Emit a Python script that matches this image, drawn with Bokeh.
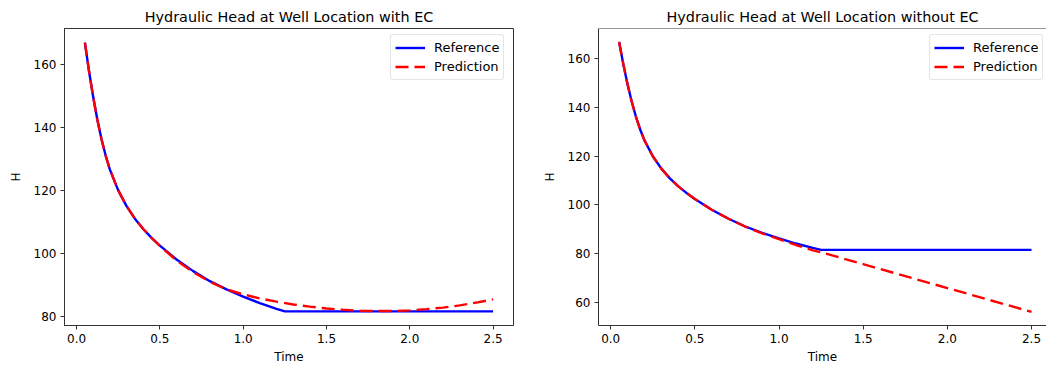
from bokeh.plotting import figure
from bokeh.layouts import row
from bokeh.models import Range1d, FixedTicker, NumeralTickFormatter, Legend, LegendItem, Span
from bokeh.embed import file_html
from bokeh.resources import INLINE

# ---------------- data ----------------
t_ref = [0.05, 0.075, 0.1, 0.125, 0.15, 0.175, 0.2, 0.25, 0.3, 0.35, 0.4, 0.45,
         0.5, 0.6, 0.7, 0.8, 0.9, 1.0, 1.1, 1.2, 1.25, 1.5, 2.0, 2.5]
h_ref = [167.0, 157.8, 149.6, 142.4, 136.2, 131.0, 126.6, 120.0, 115.0, 111.0, 107.7, 104.9,
         102.4, 98.0, 94.3, 91.1, 88.5, 86.2, 84.1, 82.3, 81.5, 81.5, 81.5, 81.5]

t_pred_ec = [0.05, 0.075, 0.1, 0.125, 0.15, 0.175, 0.2, 0.25, 0.3, 0.35, 0.4, 0.45,
             0.5, 0.6, 0.7, 0.8, 0.9, 1.0, 1.1, 1.2, 1.3, 1.4, 1.5, 1.6, 1.7, 1.8,
             1.9, 2.0, 2.1, 2.2, 2.3, 2.4, 2.5]
h_pred_ec = [167.0, 157.8, 149.6, 142.4, 136.2, 131.0, 126.6, 120.0, 115.0, 111.0, 107.7, 104.9,
             102.3, 97.7, 94.0, 90.9, 88.5, 86.9, 85.6, 84.6, 83.7, 83.0, 82.4, 82.0, 81.7, 81.6,
             81.6, 81.8, 82.2, 82.7, 83.4, 84.3, 85.3]

t_pred_no = [0.05, 0.075, 0.1, 0.125, 0.15, 0.175, 0.2, 0.25, 0.3, 0.35, 0.4, 0.45,
             0.5, 0.6, 0.7, 0.8, 0.9, 1.0, 1.1, 1.2, 1.25, 1.5, 1.75, 2.0, 2.25, 2.5]
h_pred_no = [167.0, 157.8, 149.6, 142.4, 136.2, 131.0, 126.6, 120.0, 115.0, 111.0, 107.7, 104.9,
             102.4, 98.0, 94.3, 91.0, 88.3, 85.9, 83.5, 81.3, 80.5, 75.6, 70.7, 65.8, 60.9, 56.0]

x_ticks = [0.0, 0.5, 1.0, 1.5, 2.0, 2.5]
y_ticks_left = [80, 100, 120, 140, 160]
y_ticks_right = [60, 80, 100, 120, 140, 160]

titles = ["Hydraulic Head at Well Location with EC",
          "Hydraulic Head at Well Location without EC"]
series_names = ["Reference", "Prediction"]

FONT = "DejaVu Sans"
AX_COLOR = "#333333"


def make_fig(width, border_left, border_right, x_end, y_start, y_end, yticks, title,
             t_p, h_p, legend_xy, top_span):
    p = figure(width=width, height=371, output_backend="svg", toolbar_location=None,
               x_range=Range1d(-0.0725, x_end), y_range=Range1d(y_start, y_end),
               min_border_left=border_left, min_border_right=border_right,
               min_border_top=28, min_border_bottom=46)
    p.title.text = title
    p.title.align = "center"
    p.title.text_font = FONT
    p.title.text_font_size = "14.4px"
    p.title.text_font_style = "normal"
    p.title.text_color = "black"
    p.title.standoff = 7
    p.grid.visible = False
    p.background_fill_color = "white"
    p.border_fill_color = "white"
    if top_span:
        p.outline_line_color = None
        p.add_layout(Span(location=y_end, dimension="width", line_color=AX_COLOR, line_width=1))
    else:
        p.outline_line_color = AX_COLOR
        p.outline_line_width = 1
        p.outline_line_alpha = 1

    for ax in (p.xaxis[0], p.yaxis[0]):
        ax.axis_line_color = AX_COLOR
        ax.major_tick_line_color = AX_COLOR
        ax.major_tick_out = 4
        ax.major_tick_in = 0
        ax.minor_tick_line_color = None
        ax.major_label_text_font = FONT
        ax.major_label_text_font_size = "12px"
        ax.major_label_text_color = "black"
        ax.axis_label_text_font = FONT
        ax.axis_label_text_font_size = "12px"
        ax.axis_label_text_font_style = "normal"
        ax.axis_label_text_color = "black"
        ax.major_label_standoff = 4

    p.xaxis.ticker = FixedTicker(ticks=x_ticks)
    p.xaxis.formatter = NumeralTickFormatter(format="0.0")
    p.xaxis.axis_label = "Time"
    p.xaxis.axis_label_standoff = 4
    p.yaxis.ticker = FixedTicker(ticks=yticks)
    p.yaxis.axis_label = "H"
    p.yaxis.axis_label_standoff = 8

    r1 = p.line(t_ref, h_ref, line_color="blue", line_width=2.4)
    r2 = p.line(t_p, h_p, line_color="red", line_width=2.4, line_dash="13 6")

    leg = Legend(items=[LegendItem(label=series_names[0], renderers=[r1]),
                        LegendItem(label=series_names[1], renderers=[r2])],
                 location=legend_xy)
    leg.label_text_font = FONT
    leg.label_text_font_size = "13px"
    leg.label_text_color = "black"
    leg.glyph_width = 30
    leg.glyph_height = 17
    leg.label_height = 17
    leg.label_standoff = 9
    leg.spacing = 2
    leg.padding = 4
    leg.margin = 0
    leg.border_line_color = "#cccccc"
    leg.border_line_width = 1
    leg.border_radius = 3
    leg.background_fill_alpha = 0.8
    p.add_layout(leg)
    return p


p1 = make_fig(530, 64, 17, 2.6225, 77.0, 171.5, y_ticks_left, titles[0],
              t_pred_ec, h_pred_ec, (326, 245), False)
p2 = make_fig(516, 68, 0, 2.589, 50.4, 172.5, y_ticks_right, titles[1],
              t_pred_no, h_pred_no, (331, 245), True)

layout = row(p1, p2)
open("out.html", "w").write(file_html(layout, INLINE))
